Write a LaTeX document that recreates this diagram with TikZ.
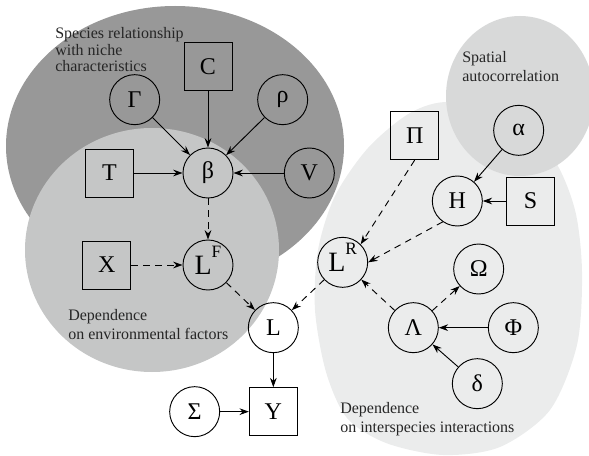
\documentclass[tikz,border=0pt]{standalone}
\usepackage{fontspec}
\setmainfont{Liberation Serif}
\usetikzlibrary{arrows.meta, positioning}

\definecolor{nichebg}{HTML}{989898}
\definecolor{envbg}{HTML}{C5C6C6}
\definecolor{interbg}{HTML}{EBECEC}
\definecolor{spatbg}{HTML}{D8D9D9}

\newcommand{\supvar}[2]{{\fontsize{21}{21}\selectfont #1\smash{\raisebox{0.6em}{\fontsize{13}{13}\selectfont #2}}}}

\begin{document}
\begin{tikzpicture}[x=0.75pt, y=0.75pt,
      var/.style={draw, circle, line width=0.7pt, minimum size=37.5pt, inner sep=0pt, font=\fontsize{18}{18}\selectfont},
      box/.style={draw, rectangle, line width=0.7pt, minimum size=36pt, inner sep=0pt, font=\fontsize{18}{18}\selectfont},
      note/.style={anchor=north west, align=left, inner sep=0pt, text=black!85, font=\fontsize{12}{14}\selectfont},
      arr/.style={-{Stealth[length=7pt, width=5pt]}, line width=0.7pt},
      darr/.style={arr, dash pattern=on 5pt off 4pt},
      on grid,
    ]

    \useasboundingbox (0,0) rectangle (589,-456);

    \fill[nichebg] (175,-146) ellipse [x radius=169, y radius=140];
    \fill[envbg] (152,-250) ellipse [x radius=127, y radius=122];
    \fill[interbg] plot[smooth cycle] coordinates {(450,-102) (510,-118) (553,-158) (575,-210) (582,-272) (577,-345) (550,-410) (500,-447) (443,-455) (386,-443) (347,-418) (326,-372) (315,-310) (318,-250) (335,-196) (368,-148) (410,-113)};
    \fill[spatbg] (520,-96) ellipse [x radius=74, y radius=80];

    \node[note, font=\fontsize{12}{12.5}\selectfont] (niche_lbl) at (55,-27) {Species relationship\\with niche\\characteristics};
    \node[note] (spat_lbl) at (462,-51) {Spatial\\autocorrelation};
    \node[note] (env_lbl) at (68,-309) {Dependence\\on environmental factors};
    \node[note] (inter_lbl) at (340,-402) {Dependence\\on interspecies interactions};

    \node[var] (beta) at (208,-173) {β};
    \node[var, above left=55pt and 55pt of beta] (gamma) {Γ};
    \node[box, above=80pt of beta] (c) {C};
    \node[var, above right=55pt and 56pt of beta] (rho) {ρ};
    \node[box, left=74pt of beta] (t) {T};
    \node[var, right=76pt of beta] (v) {V};
    \node[var, below=69pt of beta] (lf) {\supvar{L}{F}};
    \node[box, left=76pt of lf] (x) {X};
    \node[var, below right=47pt and 49pt of lf] (l) {L};
    \node[box, below=63pt of l] (y) {Y};
    \node[var, left=59pt of y] (sigma) {Σ};

    \node[var, above right=49pt and 52pt of l] (lr) {\supvar{L}{R}};
    \node[box, above right=95pt and 54pt of lr] (pi) {Π};
    \node[var, above right=46pt and 86pt of lr] (h) {H};
    \node[var, above right=53pt and 46pt of h] (alpha) {α};
    \node[box, right=55pt of h] (s) {S};
    \node[var, below right=49pt and 53pt of lr] (lambda) {Λ};
    \node[var, above right=44pt and 49pt of lambda] (omega) {Ω};
    \node[var, right=75pt of lambda] (phi) {Φ};
    \node[var, below right=42pt and 48pt of lambda] (delta) {δ};

    \draw[arr] (gamma) -- (beta);
    \draw[arr] (c) -- (beta);
    \draw[arr] (rho) -- (beta);
    \draw[arr] (t) -- (beta);
    \draw[arr] (v) -- (beta);

    \draw[darr] (beta) -- (lf);
    \draw[darr] (x) -- (lf);
    \draw[darr] (lf) -- (l);
    \draw[darr] (lr) -- (l);

    \draw[arr] (l) -- (y);
    \draw[arr] (sigma) -- (y);

    \draw[darr] (pi.south) -- (lr.45);
    \draw[darr] (h.235) -- (lr.east);
    \draw[darr] (lambda) -- (lr);
    \draw[darr] (lambda) -- (omega);

    \draw[arr] (alpha) -- (h);
    \draw[arr] (s) -- (h);
    \draw[arr] (phi) -- (lambda);
    \draw[arr] (delta) -- (lambda);
  \end{tikzpicture}
\end{document}
